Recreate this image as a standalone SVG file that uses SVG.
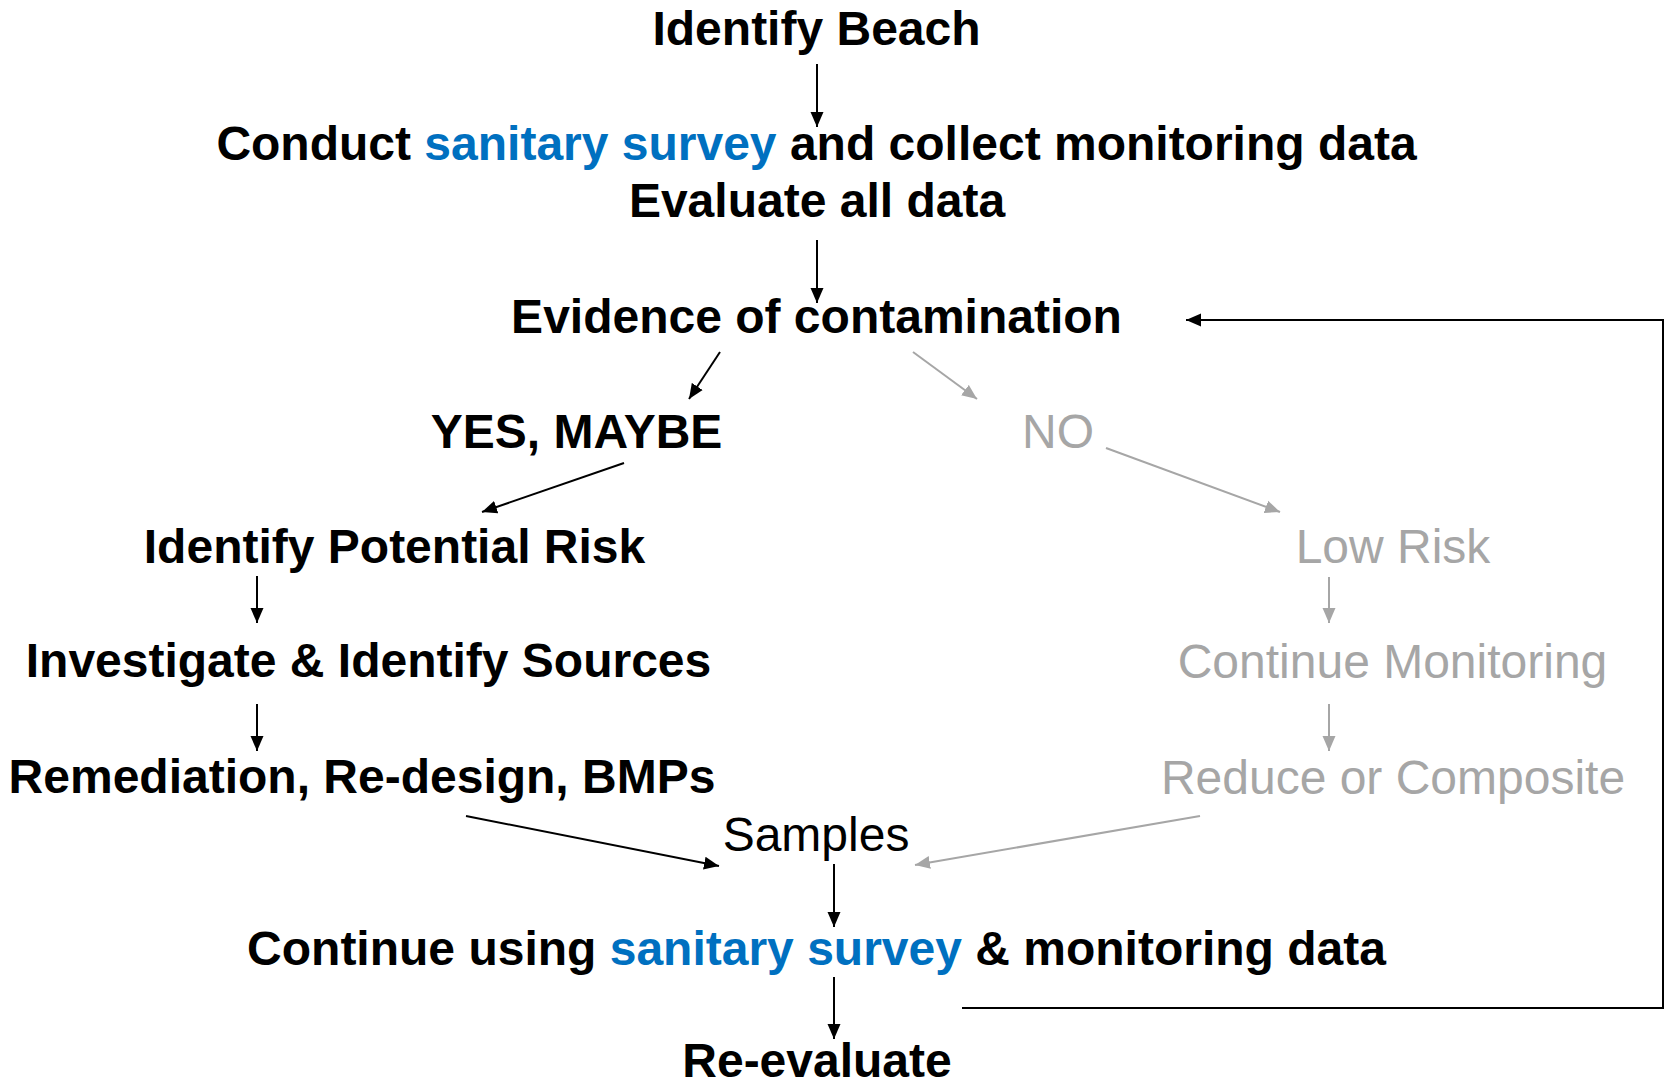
<svg xmlns="http://www.w3.org/2000/svg" width="1665" height="1084" viewBox="0 0 1665 1084">
<style>
text{font-family:"Liberation Sans",Arial,sans-serif;font-size:48px;text-anchor:middle}
.b{font-weight:bold;fill:#000}
.r{fill:#000}
.g{fill:#A6A6A6}
.blue{fill:#0070C0}
.lk{stroke:#000;stroke-width:2;fill:none}
.lg{stroke:#A6A6A6;stroke-width:2;fill:none}
</style>
<defs>
<marker id="ak" markerUnits="userSpaceOnUse" markerWidth="16" markerHeight="14" refX="15" refY="7" orient="auto"><path d="M0,0.5 L15,7 L0,13.5 z" fill="#000"/></marker>
<marker id="ag" markerUnits="userSpaceOnUse" markerWidth="16" markerHeight="14" refX="15" refY="7" orient="auto"><path d="M0,0.5 L15,7 L0,13.5 z" fill="#A6A6A6"/></marker>
</defs>
<g id="n-identify-beach"><text class="b" x="816.5" y="45">Identify Beach</text></g>
<g id="n-conduct"><text class="b" x="816.5" y="160">Conduct <tspan class="blue">sanitary survey</tspan> and collect monitoring data</text></g>
<g id="n-evaluate"><text class="b" x="817" y="217">Evaluate all data</text></g>
<g id="n-evidence"><text class="b" x="816.5" y="333">Evidence of contamination</text></g>
<g id="n-yes"><text class="b" x="576.5" y="448">YES, MAYBE</text></g>
<g id="n-no"><text class="g" x="1058" y="448">NO</text></g>
<g id="n-potential-risk"><text class="b" x="394.5" y="563">Identify Potential Risk</text></g>
<g id="n-investigate"><text class="b" x="368.5" y="677">Investigate &amp; Identify Sources</text></g>
<g id="n-remediation"><text class="b" x="362" y="793">Remediation, Re-design, BMPs</text></g>
<g id="n-low-risk"><text class="g" x="1393" y="563">Low Risk</text></g>
<g id="n-continue-monitoring"><text class="g" x="1392.5" y="678">Continue Monitoring</text></g>
<g id="n-reduce"><text class="g" x="1393" y="794">Reduce or Composite</text></g>
<g id="n-samples"><text class="r" x="816" y="851">Samples</text></g>
<g id="n-continue-using"><text class="b" x="816.5" y="965">Continue using <tspan class="blue">sanitary survey</tspan> &amp; monitoring data</text></g>
<g id="n-reevaluate"><text class="b" x="817" y="1077">Re-evaluate</text></g>
<g id="connectors">
<line class="lk" x1="817" y1="64" x2="817" y2="127" marker-end="url(#ak)"/>
<line class="lk" x1="817" y1="240" x2="817" y2="303" marker-end="url(#ak)"/>
<line class="lk" x1="720" y1="352" x2="689" y2="399" marker-end="url(#ak)"/>
<line class="lg" x1="913" y1="352" x2="977" y2="399" marker-end="url(#ag)"/>
<line class="lk" x1="624" y1="463" x2="482" y2="512" marker-end="url(#ak)"/>
<line class="lg" x1="1106" y1="448" x2="1280" y2="512" marker-end="url(#ag)"/>
<line class="lk" x1="257" y1="576" x2="257" y2="623" marker-end="url(#ak)"/>
<line class="lk" x1="257" y1="704" x2="257" y2="751" marker-end="url(#ak)"/>
<line class="lg" x1="1329" y1="577" x2="1329" y2="623" marker-end="url(#ag)"/>
<line class="lg" x1="1329" y1="704" x2="1329" y2="751" marker-end="url(#ag)"/>
<line class="lk" x1="466" y1="816" x2="719" y2="866" marker-end="url(#ak)"/>
<line class="lg" x1="1200" y1="816" x2="915" y2="865" marker-end="url(#ag)"/>
<line class="lk" x1="834" y1="864" x2="834" y2="927" marker-end="url(#ak)"/>
<line class="lk" x1="834" y1="977" x2="834" y2="1039" marker-end="url(#ak)"/>
<polyline class="lk" points="962,1008 1663,1008 1663,320 1186,320" marker-end="url(#ak)"/>
</g>
</svg>
